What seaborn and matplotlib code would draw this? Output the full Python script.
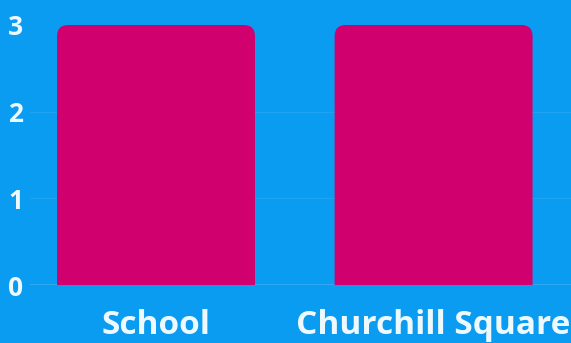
import matplotlib
matplotlib.use("Agg")
import matplotlib.pyplot as plt
from matplotlib.patches import FancyBboxPatch
import seaborn as sns
import pandas as pd

# Data
categories = ["School", "Churchill Square"]
values = [3, 3]
y_ticks = [0, 1, 2, 3]

BG = "#0a9cf0"
BAR = "#d0006e"
TXT = "#eef8ff"

sns.set_theme(style="white")
plt.rcParams["font.family"] = ["Open Sans", "DejaVu Sans"]

W, H = 571, 343
fig = plt.figure(figsize=(W / 100, H / 100), dpi=100, facecolor=BG)
left_px, right_px, top_px, bottom_px = 30, 571, 25, 285
ax = fig.add_axes([left_px / W, 1 - bottom_px / H,
                   (right_px - left_px) / W, (bottom_px - top_px) / H])
ax.set_facecolor(BG)

df = pd.DataFrame({"place": categories, "count": values})
sns.barplot(data=df, x="place", y="count", color=BAR, width=0.713,
            saturation=1, ax=ax, zorder=3)

ax.set_ylim(0, 3)
ax.set_xlim(-0.454, 1.495)

# faint grid + baseline
for t in y_ticks[1:-1]:
    ax.axhline(t, color="#1ea3f2", lw=1.0, zorder=1)
ax.axhline(0, color="#30aaf3", lw=1.5, zorder=2)

# swap square bars for ones with rounded top corners
px_x = (ax.get_xlim()[1] - ax.get_xlim()[0]) / (right_px - left_px)
px_y = 3 / (bottom_px - top_px)
r = 11 * px_x
for p in list(ax.patches):
    x0, w, h = p.get_x(), p.get_width(), p.get_height()
    p.remove()
    ax.add_patch(FancyBboxPatch((x0, -0.5), w, h + 0.5,
                                boxstyle=f"round,pad=0,rounding_size={r}",
                                mutation_aspect=px_y / px_x,
                                facecolor=BAR, edgecolor="none", zorder=3))

ax.set_yticks(y_ticks)
ax.set_yticklabels([str(t) for t in y_ticks])
ax.set_xlabel("")
ax.set_ylabel("")
ax.tick_params(axis="y", length=0, pad=5, labelsize=19, labelcolor=TXT)
ax.tick_params(axis="x", length=0, pad=17, labelsize=24, labelcolor=TXT)
for lab in ax.get_xticklabels() + ax.get_yticklabels():
    lab.set_fontweight("bold")
for s in ax.spines.values():
    s.set_visible(False)

fig.savefig("out.png", dpi=100, facecolor=BG)
